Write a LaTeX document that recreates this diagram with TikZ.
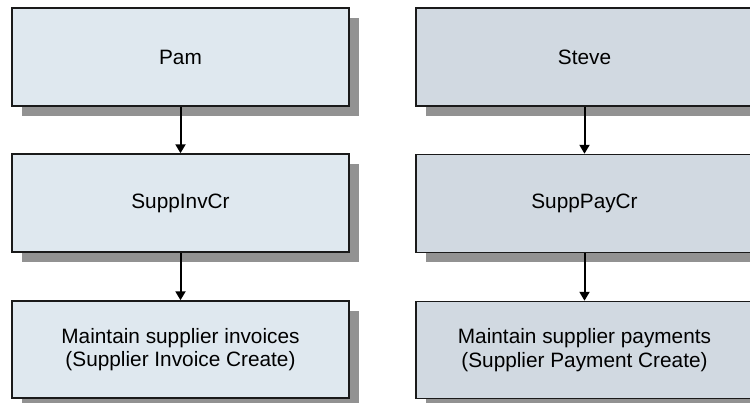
\documentclass[tikz,border=0pt]{standalone}
\usepackage{fontspec}
\setmainfont{Liberation Sans}
\usetikzlibrary{shadows,arrows.meta}
\definecolor{leftfill}{HTML}{DFE8EF}
\definecolor{rightfill}{HTML}{D1D9E1}
\definecolor{shadowgray}{HTML}{929292}
\definecolor{edgecol}{HTML}{1A1A1A}
\tikzset{
  boxbase/.style={draw=edgecol, line width=1.5pt, minimum width=337pt, minimum height=98pt,
    inner sep=0pt, align=center, font=\fontsize{20.8pt}{23.5pt}\selectfont,
    drop shadow={shadow xshift=9.5pt, shadow yshift=-9.5pt, fill=shadowgray, opacity=1}},
  leftbox/.style={boxbase, fill=leftfill},
  rightbox/.style={boxbase, fill=rightfill},
  conn/.style={line width=2pt, -{Triangle[length=9pt,width=10pt]}}
}
\begin{document}
\begin{tikzpicture}[x=1pt,y=-1pt]
\useasboundingbox (0,0) rectangle (750,402);
\clip (0,0) rectangle (750,402);
\node[leftbox] (pam) at (180.5,57) {Pam};
\node[leftbox] (inv) at (180.5,203) {SuppInvCr};
\node[leftbox, minimum height=97pt] (minv) at (180.5,349.5) {Maintain supplier invoices\\(Supplier Invoice Create)};
\node[rightbox] (steve) at (584.5,57) {Steve};
\node[rightbox] (pay) at (584.5,203.5) {SuppPayCr};
\node[rightbox, minimum height=97pt] (mpay) at (584.5,350) {Maintain supplier payments\\(Supplier Payment Create)};
\draw[conn] (pam.south) -- (inv.north);
\draw[conn] (inv.south) -- (minv.north);
\draw[conn] (steve.south) -- (pay.north);
\draw[conn] (pay.south) -- (mpay.north);
\end{tikzpicture}
\end{document}
